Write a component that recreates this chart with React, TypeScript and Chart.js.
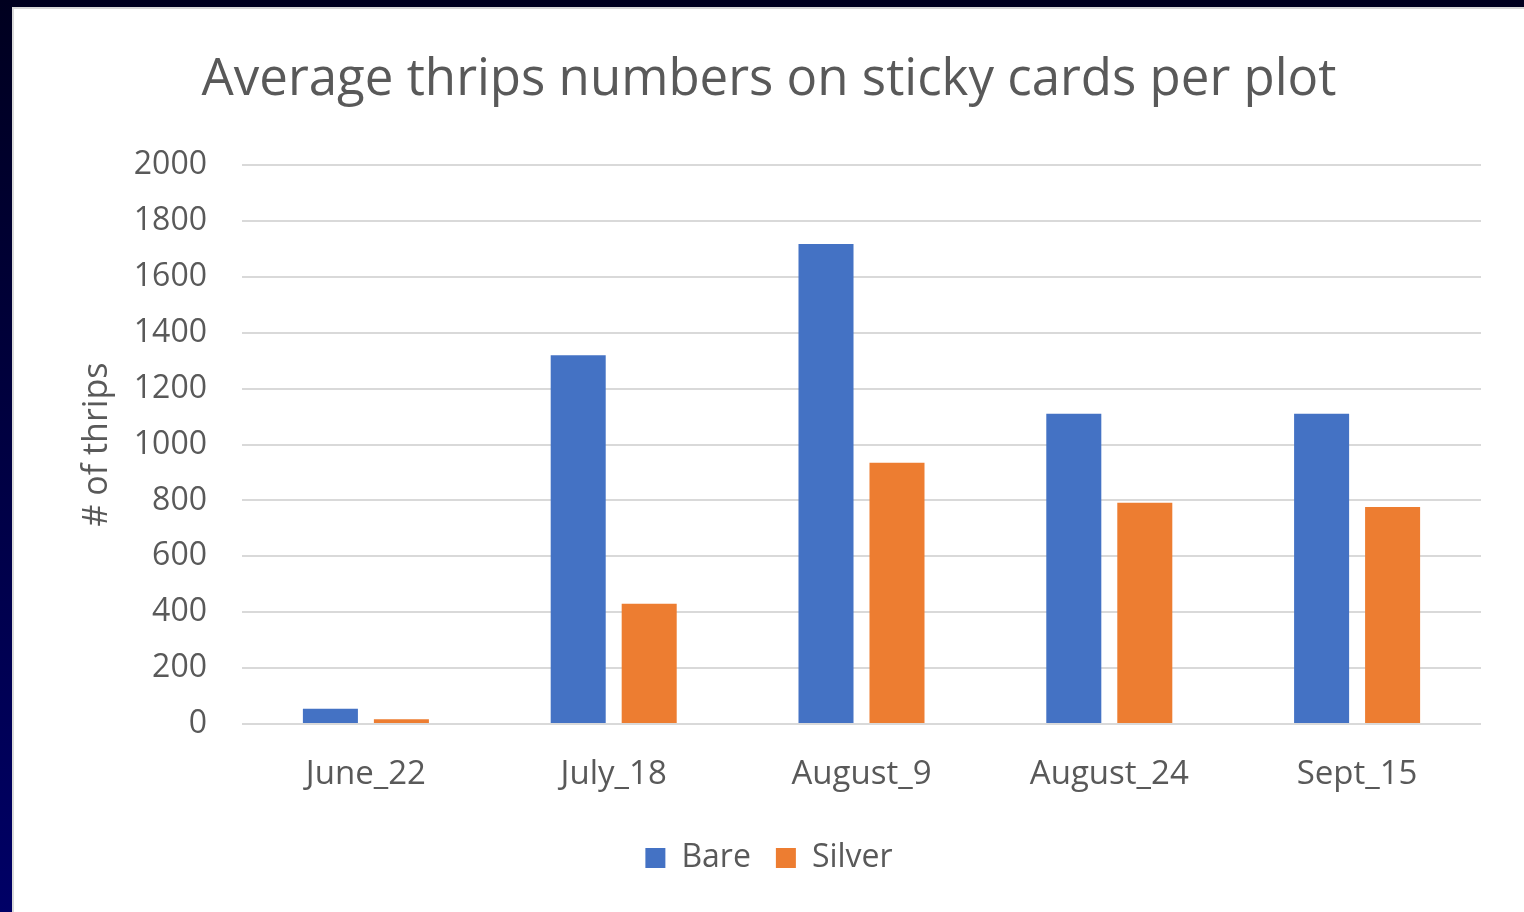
import React, { useEffect, useRef } from "react";
import { Chart, registerables } from "chart.js";

Chart.register(...registerables);

const categories = ["June_22", "July_18", "August_9", "August_24", "Sept_15"];
const bareValues = [55, 1320, 1718, 1110, 1110];
const silverValues = [17, 430, 935, 792, 777];
const seriesNames = ["Bare", "Silver"];
const yTicks = { min: 0, max: 2000, step: 200 };
const chartTitle = "Average thrips numbers on sticky cards per plot";
const yTitle = "# of thrips";

const FONT = "'Open Sans', 'Noto Sans', sans-serif";
const TEXT = "#595959";

export default function App() {
  const ref = useRef<HTMLCanvasElement | null>(null);

  useEffect(() => {
    if (!ref.current) return;
    const chart = new Chart(ref.current, {
      type: "bar",
      data: {
        labels: categories,
        datasets: [
          { label: seriesNames[0], data: bareValues, backgroundColor: "#4472C4", borderWidth: 0 },
          { label: seriesNames[1], data: silverValues, backgroundColor: "#ED7D31", borderWidth: 0 },
        ],
      },
      options: {
        responsive: false,
        animation: false,
        categoryPercentage: 0.573,
        barPercentage: 0.775,
        layout: { padding: { left: 0, right: 0, top: 0, bottom: 28 } },
        plugins: {
          title: {
            display: true,
            text: chartTitle,
            color: TEXT,
            font: { family: FONT, size: 51, weight: "normal" },
            padding: { top: 41, bottom: 54 },
          },
          legend: {
            position: "bottom",
            labels: {
              color: TEXT,
              font: { family: FONT, size: 32 },
              boxWidth: 20,
              boxHeight: 20,
              padding: 25,
            },
          },
          tooltip: { enabled: false },
        },
        scales: {
          x: {
            grid: { display: false },
            border: { display: false },
            ticks: { color: TEXT, font: { family: FONT, size: 33 }, padding: 23 },
            afterFit: (s: any) => { s.height = 93; },
          },
          y: {
            min: yTicks.min,
            max: yTicks.max,
            grid: { color: "#D9D9D9", lineWidth: 2, drawTicks: false },
            border: { display: false },
            ticks: {
              stepSize: yTicks.step,
              color: TEXT,
              font: { family: FONT, size: 32 },
              padding: 35,
              callback: (v: any) => String(v),
            },
            title: {
              display: true,
              text: yTitle,
              color: TEXT,
              font: { family: FONT, size: 34 },
              padding: { top: 63, bottom: 0 },
            },
            afterFit: (s: any) => { s.width = 228; },
          },
          yr: {
            type: "linear",
            position: "right",
            grid: { display: false },
            border: { display: false },
            ticks: { display: false },
            afterFit: (s: any) => { s.width = 43; },
          },
        },
      },
    });
    return () => chart.destroy();
  }, []);

  return (
    <div style={{ position: "fixed", inset: 0, background: "linear-gradient(#00001f, #000066)" }}>
      <div
        style={{
          position: "absolute",
          left: 12,
          top: 7,
          right: 0,
          bottom: 0,
          background: "#ffffff",
          borderLeft: "2px solid #d9d9d9",
          borderTop: "2px solid #d9d9d9",
        }}
      >
        <canvas ref={ref} width={1510} height={903} style={{ display: "block" }} />
      </div>
    </div>
  );
}
